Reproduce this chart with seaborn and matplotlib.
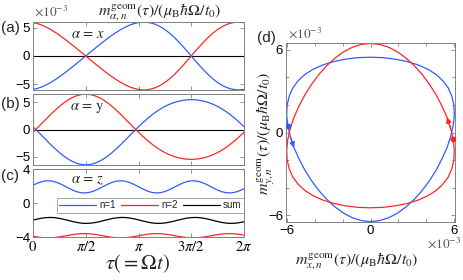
import numpy as np
import matplotlib
matplotlib.use("Agg")
import matplotlib.pyplot as plt
import seaborn as sns

# ---------------- data (values in units of 1e-3) ----------------
tau = np.linspace(0, 2 * np.pi, 49)   # sample points, step pi/24

# alpha = x
mx_n2 = [5.95, 5.77, 5.50, 5.14, 4.72, 4.24, 3.71, 3.14, 2.54, 1.92, 1.29, 0.65, 0.00,
         -0.65, -1.29, -1.92, -2.54, -3.14, -3.71, -4.24, -4.72, -5.14, -5.50, -5.77, -5.95,
         -6.03, -6.00, -5.85, -5.59, -5.20, -4.71, -4.11, -3.41, -2.63, -1.79, -0.91, 0.00,
         0.91, 1.79, 2.63, 3.41, 4.11, 4.71, 5.20, 5.59, 5.85, 6.00, 6.03, 5.95]
mx_n1 = [-5.95, -5.77, -5.50, -5.14, -4.72, -4.24, -3.71, -3.14, -2.54, -1.92, -1.29, -0.65, 0.00,
         0.65, 1.29, 1.92, 2.54, 3.14, 3.71, 4.24, 4.72, 5.14, 5.50, 5.77, 5.95,
         6.03, 6.00, 5.85, 5.59, 5.20, 4.71, 4.11, 3.41, 2.63, 1.79, 0.91, 0.00,
         -0.91, -1.79, -2.63, -3.41, -4.11, -4.71, -5.20, -5.59, -5.85, -6.00, -6.03, -5.95]
# alpha = y
my_n2 = [-0.50, 0.29, 1.11, 1.92, 2.73, 3.49, 4.21, 4.85, 5.40, 5.85, 6.18, 6.38, 6.45,
         6.38, 6.18, 5.85, 5.40, 4.85, 4.21, 3.49, 2.73, 1.92, 1.11, 0.29, -0.50,
         -1.26, -1.97, -2.63, -3.23, -3.75, -4.21, -4.59, -4.90, -5.14, -5.31, -5.42, -5.45,
         -5.42, -5.31, -5.14, -4.90, -4.59, -4.21, -3.75, -3.23, -2.63, -1.97, -1.26, -0.50]
my_n1 = [0.50, -0.29, -1.11, -1.92, -2.73, -3.49, -4.21, -4.85, -5.40, -5.85, -6.18, -6.38, -6.45,
         -6.38, -6.18, -5.85, -5.40, -4.85, -4.21, -3.49, -2.73, -1.92, -1.11, -0.29, 0.50,
         1.26, 1.97, 2.63, 3.23, 3.75, 4.21, 4.59, 4.90, 5.14, 5.31, 5.42, 5.45,
         5.42, 5.31, 5.14, 4.90, 4.59, 4.21, 3.75, 3.23, 2.63, 1.97, 1.26, 0.50]
# alpha = z
mz_n1 = [2.09, 2.33, 2.51, 2.61, 2.60, 2.50, 2.30, 2.05, 1.78, 1.53, 1.32, 1.20, 1.19,
         1.27, 1.44, 1.68, 1.95, 2.21, 2.43, 2.57, 2.62, 2.56, 2.41, 2.18, 1.92,
         1.65, 1.41, 1.25, 1.18, 1.22, 1.35, 1.56, 1.82, 2.09, 2.33, 2.52, 2.61,
         2.60, 2.49, 2.30, 2.05, 1.78, 1.52, 1.32, 1.20, 1.19, 1.27, 1.44, 1.68]
mz_n2 = [-3.91, -4.00, -4.06, -4.10, -4.09, -4.06, -3.99, -3.90, -3.81, -3.72, -3.65, -3.61, -3.60,
         -3.63, -3.69, -3.77, -3.87, -3.96, -4.04, -4.08, -4.10, -4.08, -4.03, -3.95, -3.86,
         -3.76, -3.68, -3.62, -3.60, -3.61, -3.66, -3.73, -3.82, -3.92, -4.00, -4.06, -4.10,
         -4.09, -4.06, -3.99, -3.90, -3.81, -3.72, -3.65, -3.61, -3.60, -3.63, -3.69, -3.77]
mz_sum = [-2.02, -1.89, -1.78, -1.72, -1.70, -1.73, -1.81, -1.92, -2.05, -2.18, -2.29, -2.37, -2.40,
          -2.38, -2.31, -2.21, -2.08, -1.95, -1.83, -1.75, -1.70, -1.71, -1.77, -1.86, -1.99,
          -2.12, -2.24, -2.34, -2.39, -2.40, -2.35, -2.26, -2.15, -2.01, -1.89, -1.78, -1.72,
          -1.70, -1.73, -1.81, -1.92, -2.05, -2.18, -2.29, -2.37, -2.40, -2.38, -2.31, -2.21]

tau_ticks = [0, np.pi / 2, np.pi, 3 * np.pi / 2, 2 * np.pi]
tau_labels = [r"$0$", r"$\pi/2$", r"$\pi$", r"$3\pi/2$", r"$2\pi$"]
legend_labels = ["n=1", "n=2", "sum"]

# ---------------- style ----------------
sns.set_theme(style="ticks")
plt.rcParams.update({
    "font.family": ["Liberation Sans", "DejaVu Sans"],
    "mathtext.fontset": "stix",
    "xtick.direction": "in",
    "ytick.direction": "in",
    "axes.linewidth": 0.7,
})
BLUE = "#2f5cff"
RED = "#ff2525"
FRAME = "#808080"
LW = 0.9

fig = plt.figure(figsize=(4.63, 2.80), dpi=100)
W, H = 463.0, 280.0


def box(l, t, r, b):
    return [l / W, 1 - b / H, (r - l) / W, (b - t) / H]


axa = fig.add_axes(box(33, 22, 244, 90))
axb = fig.add_axes(box(33, 94, 244, 165))
axc = fig.add_axes(box(33, 169, 244, 237))
axd = fig.add_axes(box(286, 43, 455, 222))


def style(ax):
    for s in ax.spines.values():
        s.set_color(FRAME)
        s.set_linewidth(0.7)
    ax.tick_params(which="both", direction="in", top=True, right=True, color=FRAME,
                   length=3, width=0.6, labelsize=9.5, pad=2, labelcolor="black")
    ax.tick_params(which="minor", length=2)


for ax, blue, red, lim in [(axa, mx_n1, mx_n2, 6.05), (axb, my_n1, my_n2, 6.48)]:
    ax.axhline(0, color="black", lw=0.8, zorder=1)
    sns.lineplot(x=tau, y=blue, ax=ax, color=BLUE, lw=LW)
    sns.lineplot(x=tau, y=red, ax=ax, color=RED, lw=LW)
    ax.set_ylim(-lim, lim)
    ax.set_yticks([-5, 0, 5])

sns.lineplot(x=tau, y=mz_n1, ax=axc, color=BLUE, lw=LW, label=legend_labels[0])
sns.lineplot(x=tau, y=mz_n2, ax=axc, color=RED, lw=LW, label=legend_labels[1])
sns.lineplot(x=tau, y=mz_sum, ax=axc, color="black", lw=LW, label=legend_labels[2])
axc.set_ylim(-4, 4)
axc.set_yticks([-4, 0, 4])
leg = axc.legend(loc="lower left", bbox_to_anchor=(0.114, 0.36, 0.886, 0.22), mode="expand",
                 ncol=3, fontsize=7, frameon=True, fancybox=False, handlelength=3.8,
                 handletextpad=0.3, borderpad=0.25, borderaxespad=0, columnspacing=0.8)
leg.get_frame().set_edgecolor(FRAME)
leg.get_frame().set_linewidth(0.6)

for ax in (axa, axb, axc):
    ax.set_xlim(0, 2 * np.pi)
    ax.set_xticks(tau_ticks)
    ax.set_xticklabels(tau_labels if ax is axc else [])
    ax.set_xlabel("")
    ax.set_ylabel("")
    style(ax)
axc.tick_params(axis="x", labelsize=10.5)

axa.text(0.26, 0.83, r"$\alpha\, =\, x$", transform=axa.transAxes, fontsize=10.5, ha="center", va="center")
axb.text(0.26, 0.80, r"$\alpha\, =\, \mathrm{y}$", transform=axb.transAxes, fontsize=10.5, ha="center", va="center")
axc.text(0.26, 0.84, r"$\alpha\, =\, z$", transform=axc.transAxes, fontsize=10.5, ha="center", va="center")

# ---------------- panel (d) ----------------
sns.lineplot(x=mx_n1, y=my_n1, ax=axd, color=BLUE, lw=LW, sort=False, estimator=None)
sns.lineplot(x=mx_n2, y=my_n2, ax=axd, color=RED, lw=LW, sort=False, estimator=None)
for xs, ys, c in [(mx_n1, my_n1, BLUE), (mx_n2, my_n2, RED)]:
    axd.plot(xs[0], ys[0], "o", color=c, ms=3.2, zorder=5)
    axd.annotate("", xy=(xs[2], ys[2]), xytext=(xs[1], ys[1]),
                 arrowprops=dict(arrowstyle="-|>", color=c, lw=0.9, mutation_scale=8,
                                 shrinkA=0, shrinkB=0))
axd.set_xlim(-6.08, 6.08)
axd.set_ylim(-6.48, 6.48)
axd.set_xticks([-6, 0, 6])
axd.set_yticks([-6, 0, 6])
axd.set_xticks([-4, -2, 2, 4], minor=True)
axd.set_yticks([-4, -2, 2, 4], minor=True)
axd.set_xlabel("")
axd.set_ylabel("")
style(axd)

# ---------------- texts ----------------
fig.text(1 / W, 1 - 28 / H, "(a)", fontsize=11, va="center", ha="left")
fig.text(1 / W, 1 - 104 / H, "(b)", fontsize=11, va="center", ha="left")
fig.text(1 / W, 1 - 176 / H, "(c)", fontsize=11, va="center", ha="left")
fig.text(257 / W, 1 - 38 / H, "(d)", fontsize=11, va="center", ha="left")

fig.text(34 / W, 1 - 11 / H, r"$\times 10^{-3}$", fontsize=9.5, va="center", ha="left", color="#555555")
fig.text(288 / W, 1 - 33 / H, r"$\times 10^{-3}$", fontsize=9.5, va="center", ha="left", color="#555555")
fig.text(427 / W, 1 - 243 / H, r"$\times 10^{-3}$", fontsize=9.5, va="center", ha="left", color="#555555")

fig.text(160 / W, 1 - 12 / H, r"$m_{\alpha,n}^{\mathrm{geom}}(\tau)/(\mu_{\mathrm{B}}\hbar\Omega/t_0)$",
         fontsize=11.5, ha="center", va="center")
fig.text(138 / W, 1 - 264 / H, r"$\tau(=\Omega t)$", fontsize=15, ha="center", va="center")
fig.text(357 / W, 1 - 261 / H, r"$m_{x,n}^{\mathrm{geom}}(\tau)/(\mu_{\mathrm{B}}\hbar\Omega/t_0)$",
         fontsize=11.5, ha="center", va="center")
fig.text(266 / W, 1 - 133 / H, r"$m_{y,n}^{\mathrm{geom}}(\tau)/(\mu_{\mathrm{B}}\hbar\Omega/t_0)$",
         fontsize=11.5, ha="center", va="center", rotation=90)

fig.savefig("out.png", dpi=100)
